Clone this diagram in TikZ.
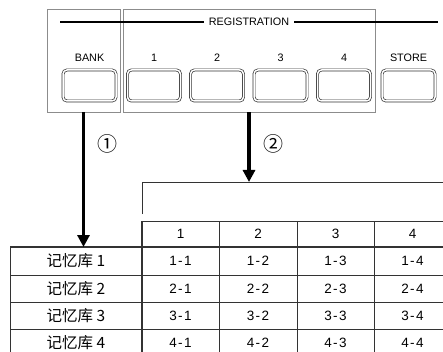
\documentclass[tikz,border=0pt]{standalone}
\usepackage{fontspec}
\setmainfont{Liberation Sans}
\newfontfamily\cjk{Noto Sans CJK SC}
\usetikzlibrary{arrows.meta, positioning}
\definecolor{framegray}{rgb}{0.55, 0.55, 0.55}
\definecolor{linegray}{rgb}{0.20, 0.20, 0.20}

\begin{document}
\begin{tikzpicture}[x=1pt, y=-1pt]
    \tikzstyle{frame} = [rectangle, draw=framegray, line width=0.9pt, inner sep=0pt]
    \tikzstyle{button} = [rectangle, draw=linegray, line width=0.7pt, double, double distance=1.5pt, rounded corners=4pt, minimum width=53pt, minimum height=31pt]
    \tikzstyle{btntext} = [font=\fontsize{10.8}{12}\selectfont, inner sep=1pt]
    \tikzstyle{circnum} = [font=\cjk\fontsize{20}{20}\selectfont, inner sep=0pt]
    \tikzstyle{celltext} = [font=\fontsize{13.5}{15}\selectfont\addfontfeature{LetterSpace=10}]
    \tikzstyle{banktext} = [font=\cjk\fontsize{15.5}{17}\selectfont]
    \tikzstyle{grid} = [draw=linegray, line width=0.8pt]
    \tikzstyle{bigarrow} = [line width=3.2pt, -{Triangle[width=12pt, length=12pt]}]

    \useasboundingbox (0,0) rectangle (443,352);

    % panel
    \node [frame, minimum width=73pt, minimum height=103pt] (bankbox) at (83.5,60.5) {};
    \node [frame, minimum width=252pt, minimum height=103pt] (regbox) at (249,60.5) {};

    \node [btntext, fill=white, inner xsep=5pt] (reg) at (249,22) {REGISTRATION};
    \coordinate (regl) at (60,22);
    \coordinate (regr) at (438,22);
    \draw [line width=1.6pt] (regl) -- (reg.west);
    \draw [line width=1.6pt] (reg.east) -- (regr);

    \foreach \name/\x/\txt in {bank/89.5/BANK, r1/154/1, r2/217/2, r3/280.5/3, r4/344/4, store/408.5/STORE} {
        \node [button] (\name) at (\x,85.5) {};
        \node [btntext] (\name lbl) at (\x,58) {\txt};
    }

    % table
    \coordinate (brtop) at (142,182);
    \coordinate (tabtop) at (10,247);
    \draw [grid] (142,214) -- (brtop) -- (443,182);
    \draw [grid] (142,221) -- (443,221);
    \draw [grid, line width=1.2pt] (tabtop) -- (443,247);
    \foreach \y in {275,302,329}
        \draw [grid] (10,\y) -- (443,\y);
    \draw [grid] (tabtop) -- (10,352);
    \draw [grid, line width=1.2pt] (142,221) -- (142,352);
    \foreach \x in {219,297,374}
        \draw [grid] (\x,221) -- (\x,352);

    \foreach \c/\x in {1/180.5, 2/258, 3/335.5, 4/412.5} {
        \node [celltext] (h\c) at (\x,234) {\c};
        \foreach \r/\y in {1/261, 2/288.5, 3/315.5, 4/342.5}
            \node [celltext] (c\r\c) at (\x,\y) {\r-\c};
    }
    \foreach \r/\y in {1/261, 2/288.5, 3/315.5, 4/342.5}
        \node [banktext] (m\r) at (76,\y) {记忆库 \r};

    % arrows
    \draw [bigarrow] (bankbox.south) -- (bankbox.south |- tabtop);
    \draw [bigarrow] (regbox.south) -- (regbox.south |- brtop);
    \node [circnum] (n1) at (107,144) {①};
    \node [circnum] (n2) at (273,144) {②};
\end{tikzpicture}
\end{document}
